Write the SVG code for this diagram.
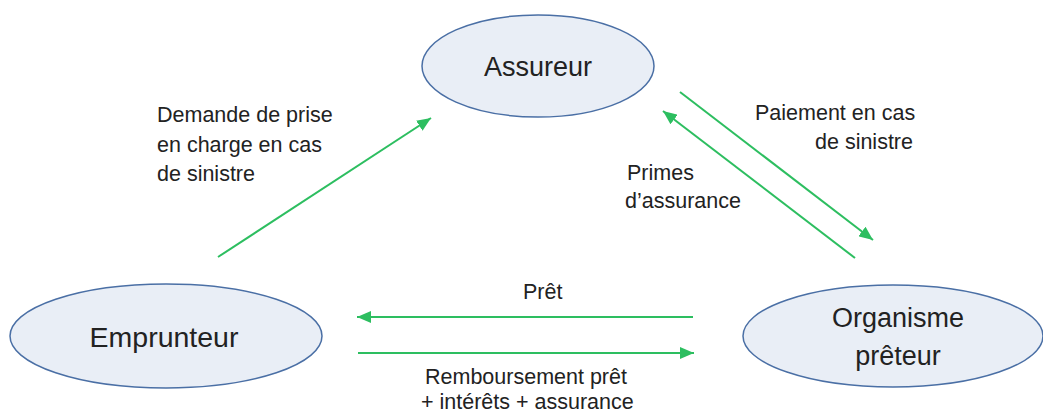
<svg xmlns="http://www.w3.org/2000/svg" width="1043" height="414" viewBox="0 0 1043 414">
<style>
.node ellipse{fill:#E9EEF6;stroke:#4A6FA5;stroke-width:1.5}
.nt{font-family:"Liberation Sans",Arial,sans-serif;font-size:27px;fill:#222;text-anchor:middle}
.lbl{font-family:"Liberation Sans",Arial,sans-serif;font-size:21.5px;fill:#222}
.conn line{stroke:#2DBE60;stroke-width:2;marker-end:url(#ah)}
</style>
<defs>
<marker id="ah" markerUnits="userSpaceOnUse" markerWidth="14" markerHeight="12" refX="14" refY="6" orient="auto">
<path d="M0,0 L14,6 L0,12 z" fill="#2DBE60"/>
</marker>
</defs>
<rect width="1043" height="414" fill="#fff"/>
<g id="node-assureur" class="node">
<ellipse cx="538" cy="66" rx="116" ry="51"/>
<text class="nt" x="538" y="76">Assureur</text>
</g>
<g id="node-emprunteur" class="node">
<ellipse cx="166" cy="336" rx="156" ry="52"/>
<text class="nt" x="164" y="347" style="font-size:28.5px">Emprunteur</text>
</g>
<g id="node-organisme" class="node">
<ellipse cx="893" cy="336" rx="150" ry="51"/>
<text class="nt" x="898" y="327">Organisme</text>
<text class="nt" x="898" y="365">prêteur</text>
</g>
<g id="connectors" class="conn">
<line x1="218" y1="257" x2="431" y2="118"/>
<line x1="680" y1="92" x2="873" y2="240"/>
<line x1="855" y1="258" x2="663" y2="111"/>
<line x1="693" y1="317" x2="357" y2="317"/>
<line x1="358" y1="353" x2="694" y2="353"/>
</g>
<g id="labels">
<text class="lbl" x="157" y="122">Demande de prise</text>
<text class="lbl" x="157" y="152">en charge en cas</text>
<text class="lbl" x="157" y="181">de sinistre</text>
<text class="lbl" x="755" y="120">Paiement en cas</text>
<text class="lbl" x="815" y="149">de sinistre</text>
<text class="lbl" x="627" y="180">Primes</text>
<text class="lbl" x="625" y="208">d’assurance</text>
<text class="lbl" x="523" y="299">Prêt</text>
<text class="lbl" x="425" y="384">Remboursement prêt</text>
<text class="lbl" x="421" y="409">+ intérêts + assurance</text>
</g>
</svg>
